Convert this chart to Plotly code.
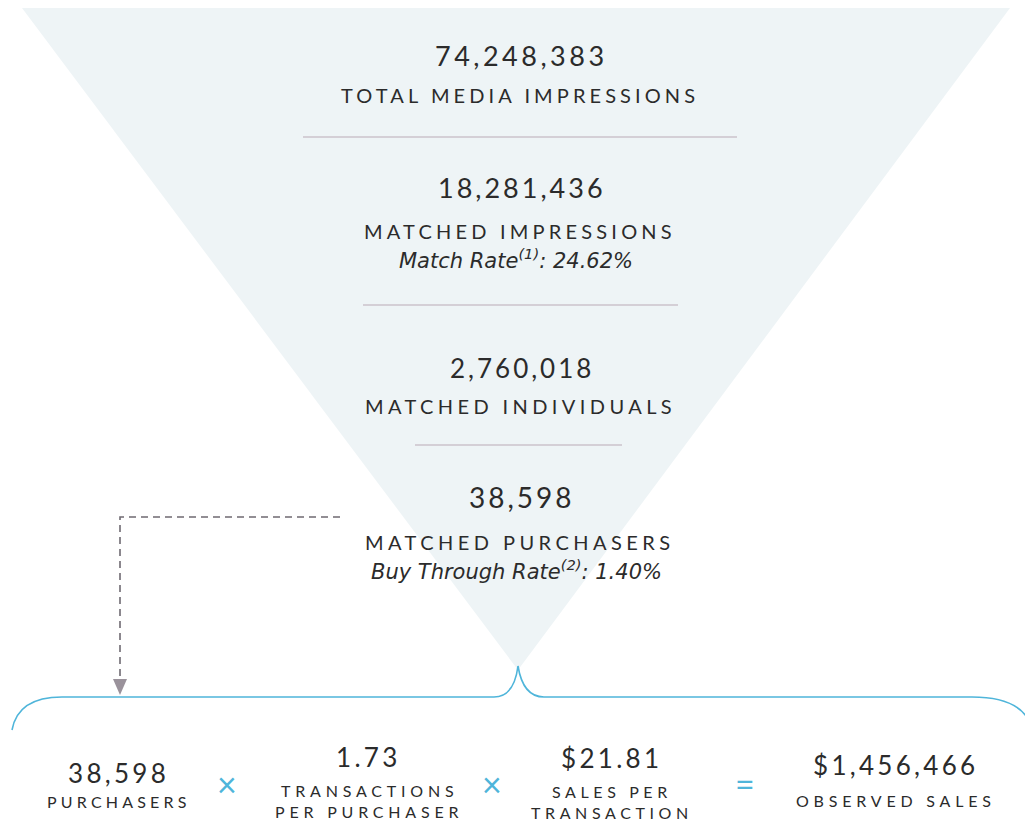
import plotly.graph_objects as go

# ---- data ----
funnel_values = ["74,248,383", "18,281,436", "2,760,018", "38,598"]
funnel_labels = ["TOTAL MEDIA IMPRESSIONS", "MATCHED IMPRESSIONS", "MATCHED INDIVIDUALS", "MATCHED PURCHASERS"]
funnel_notes = ["", "Match Rate<sup>(1)</sup>: 24.62%", "", "Buy Through Rate<sup>(2)</sup>: 1.40%"]

eq_values = ["38,598", "1.73", "$21.81", "$1,456,466"]
eq_labels = [["PURCHASERS"], ["TRANSACTIONS", "PER PURCHASER"], ["SALES PER", "TRANSACTION"], ["OBSERVED SALES"]]
eq_ops = ["×", "×", "="]

# ---- layout constants ----
W, H = 1025, 826
FONT = "Lato"
IFONT = "DejaVu Sans"
TXT = "#2b2b2b"
BLUE = "#4fb5da"
DIV = "#cbc3cb"

fig = go.Figure()
fig.add_trace(go.Scatter(x=[0, W], y=[0, H], mode="markers", marker=dict(opacity=0), hoverinfo="skip", showlegend=False))

shapes = []
# funnel triangle
shapes.append(dict(type="path", path="M 22 8 L 1010 8 L 518 670 Z", fillcolor="#eef4f6", line=dict(width=0), layer="below"))

# dividers
for (x0, x1, y) in [(303, 737, 137), (363, 678, 305), (415, 622, 445)]:
    shapes.append(dict(type="line", x0=x0, x1=x1, y0=y, y1=y, line=dict(color=DIV, width=1.5)))

# dashed connector
shapes.append(dict(type="path", path="M 340 517 L 120 517 L 120 680", line=dict(color="#6f6a72", width=1.6, dash="7px,5px")))
shapes.append(dict(type="path", path="M 113 679 L 127 679 L 120 695 Z", fillcolor="#9a929b", line=dict(width=0)))

# brace
shapes.append(dict(type="path",
                   path="M 12 730 Q 18 697 62 697 L 494 697 Q 514 697 518 666 Q 523 697 544 697 L 972 697 Q 1012 697 1026 716",
                   line=dict(color=BLUE, width=1.6)))

ann = []
def sp(text, ls):
    return '<span style="letter-spacing:%spx">%s</span>' % (ls, text)

num_y = [55, 187, 368, 497]
num_sizes = [27, 27, 26, 28]
num_ls = [3.5, 3, 3, 3]
lab_y = [95, 231, 406, 542]
lab_ls = [4.1, 4.2, 4.4, 4.45]
note_y = [None, 259, None, 570]
for i in range(4):
    ann.append(dict(x=520 + num_ls[i] / 2, y=num_y[i], text=sp(funnel_values[i], num_ls[i]),
                    font=dict(family=FONT, size=num_sizes[i], color=TXT)))
    ann.append(dict(x=518 + lab_ls[i] / 2, y=lab_y[i], text=sp(funnel_labels[i], lab_ls[i]),
                    font=dict(family=FONT, size=20, color=TXT)))
    if funnel_notes[i]:
        ann.append(dict(x=516, y=note_y[i], text="<i>" + funnel_notes[i] + "</i>",
                        font=dict(family=IFONT, size=21, color=TXT)))

# equation row
eq_x = [117, 367, 610, 894]
eq_vy = [773, 757, 758, 765]
eq_ly = [[801], [790, 811], [791, 812], [800]]
eq_ls = [4.2, 4.8, 4.6, 4.8]
for i in range(4):
    ann.append(dict(x=eq_x[i] + 1.5, y=eq_vy[i], text=sp(eq_values[i], 3.3),
                    font=dict(family=FONT, size=26, color=TXT)))
    for t, yy in zip(eq_labels[i], eq_ly[i]):
        ann.append(dict(x=eq_x[i] + eq_ls[i] / 2, y=yy, text=sp(t, eq_ls[i]),
                        font=dict(family=FONT, size=16, color=TXT)))
op_x = [227, 492, 745]
for i, op in enumerate(eq_ops):
    ann.append(dict(x=op_x[i], y=783, text=op, font=dict(family=FONT, size=34, color=BLUE)))

for a in ann:
    a.update(xref="x", yref="y", showarrow=False, xanchor="center", yanchor="middle")

fig.update_layout(
    width=W, height=H, margin=dict(l=0, r=0, t=0, b=0),
    paper_bgcolor="white", plot_bgcolor="white",
    xaxis=dict(range=[0, W], visible=False, fixedrange=True),
    yaxis=dict(range=[H, 0], visible=False, fixedrange=True),
    shapes=shapes, annotations=ann, showlegend=False,
)
fig.write_html("out.html", config={"displayModeBar": False},
               post_script="document.body.style.margin='0';")
